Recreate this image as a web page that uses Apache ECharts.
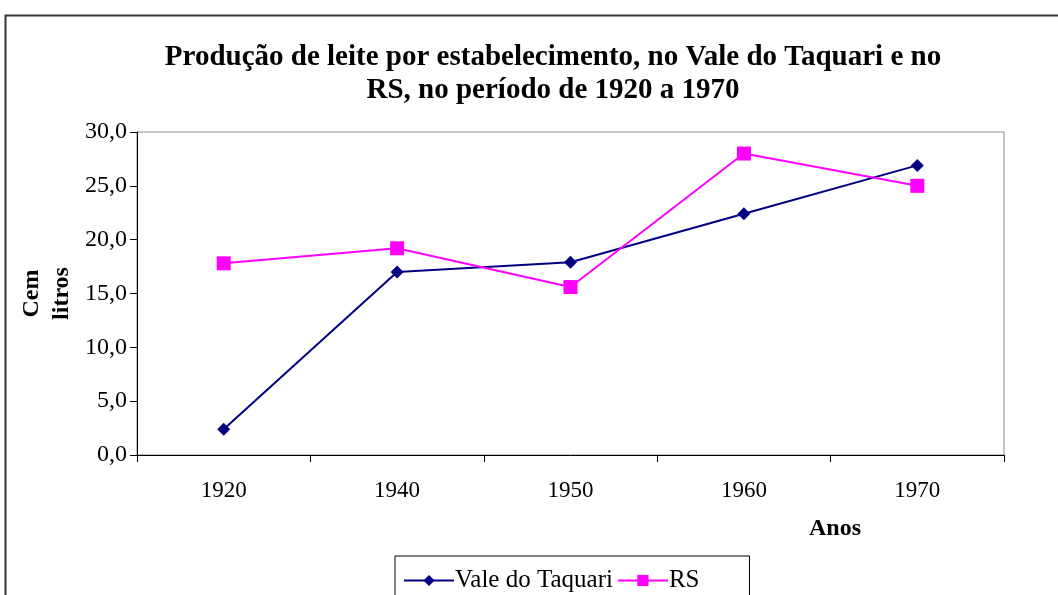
<!DOCTYPE html>
<html>
<head>
<meta charset="utf-8">
<script src="https://cdn.jsdelivr.net/npm/echarts@6/dist/echarts.min.js"></script>
<style>
  html, body { margin: 0; padding: 0; background: #fff; }
  #chart { width: 1058px; height: 595px; }
</style>
</head>
<body>
<div id="chart"></div>
<script>
// dados
var anos = ['1920', '1940', '1950', '1960', '1970']
var valeTaquari = [2.4, 17.0, 17.9, 22.4, 26.9]
var rs = [17.8, 19.2, 15.6, 28.0, 25.0]

var serif = '"Liberation Serif", "Times New Roman", serif'

var chart = echarts.init(document.getElementById('chart'))

var option = {
    backgroundColor: '#fff',
    animation: false,
    title: {
        text: 'Produção de leite por estabelecimento, no Vale do Taquari e no\nRS, no período de 1920 a 1970',
        left: 548,
        textAlign: 'center',
        top: 36,
        textStyle: {
            fontFamily: serif,
            fontWeight: 'bold',
            fontSize: 29,
            lineHeight: 33,
            color: '#000'
        }
    },
    grid: {
        left: 137,
        right: 54,
        top: 132,
        bottom: 140,
        outerBoundsMode: 'none',
        containLabel: false,
        show: true,
        borderColor: '#888',
        borderWidth: 1
    },
    legend: {
        data: ['Vale do Taquari', 'RS'],
        left: 395,
        top: 556,
        itemWidth: 50,
        itemHeight: 14,
        itemGap: 4,
        padding: [12, 50, 20, 8],
        borderColor: '#000',
        borderWidth: 1,
        backgroundColor: '#fff',
        textStyle: { fontFamily: serif, fontSize: 25, color: '#000', padding: [0, 0, 0, -4] }
    },
    xAxis: {
        type: 'category',
        data: anos,
        boundaryGap: true,
        name: 'Anos',
        nameLocation: 'end',
        nameGap: 0,
        nameMoveOverlap: false,
        nameTextStyle: {
            fontFamily: serif,
            fontWeight: 'bold',
            fontSize: 24,
            color: '#000',
            align: 'center',
            verticalAlign: 'top',
            padding: [62, 0, 0, -338]
        },
        axisLine: { lineStyle: { color: '#000', width: 1 } },
        axisTick: { show: true, length: 7, lineStyle: { color: '#000' } },
        axisLabel: { fontFamily: serif, fontSize: 23, color: '#000', margin: 24 },
        splitLine: { show: false }
    },
    yAxis: {
        type: 'value',
        min: 0,
        max: 30,
        interval: 5,
        name: 'Cem\nlitros',
        nameLocation: 'middle',
        nameGap: 60,
        nameMoveOverlap: false,
        nameRotate: 90,
        nameTextStyle: {
            fontFamily: serif,
            fontWeight: 'bold',
            fontSize: 24,
            lineHeight: 30,
            color: '#000'
        },
        axisLine: { show: true, lineStyle: { color: '#000', width: 1 } },
        axisTick: { show: true, length: 7, lineStyle: { color: '#000' } },
        axisLabel: {
            fontFamily: serif,
            fontSize: 24,
            color: '#000',
            margin: 10,
            formatter: function (v) { return v.toFixed(1).replace('.', ',') }
        },
        splitLine: { show: false }
    },
    series: [
        {
            name: 'Vale do Taquari',
            type: 'line',
            data: valeTaquari,
            symbol: 'diamond',
            symbolSize: 13,
            itemStyle: { color: '#000080' },
            lineStyle: { color: '#000080', width: 2 }
        },
        {
            name: 'RS',
            type: 'line',
            data: rs,
            symbol: 'rect',
            symbolSize: 14,
            itemStyle: { color: '#ff00ff' },
            lineStyle: { color: '#ff00ff', width: 2 }
        }
    ],
    graphic: [
        {
            type: 'polyline',
            shape: { points: [[5.5, 600], [5.5, 15.5], [1060, 15.5]] },
            style: { stroke: '#333', lineWidth: 2, fill: null }
        }
    ]
}

chart.setOption(option)
</script>
</body>
</html>
